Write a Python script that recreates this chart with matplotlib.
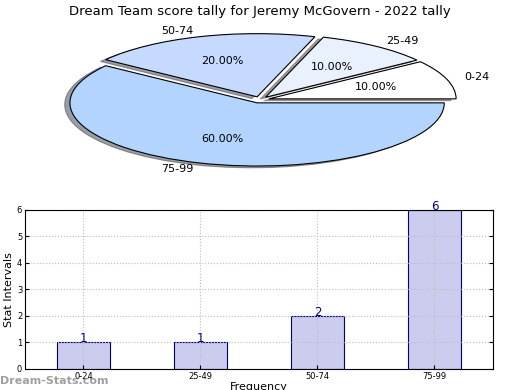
import numpy as np
import matplotlib
matplotlib.use("Agg")
import matplotlib.pyplot as plt

# score intervals and counts
labels = ["0-24", "25-49", "50-74", "75-99"]
counts = [1, 1, 2, 6]
pie_colors = ["#ffffff", "#e9f1ff", "#c6d9ff", "#b3d4ff"]
title = "Dream Team score tally for Jeremy McGovern - 2022 tally"

fig = plt.figure(figsize=(5.2, 3.9), dpi=100)

# pie on top, squashed to an ellipse
ax1 = fig.add_axes([0.05, 0.535, 0.90, 0.418])
ax1.pie(counts, labels=labels, colors=pie_colors, autopct="%1.2f%%",
        explode=[0.05] * len(counts), shadow=True, startangle=0,
        wedgeprops={"edgecolor": "black", "linewidth": 0.8},
        textprops={"fontsize": 8})
ax1.set_aspect("auto")
ax1.set_xlim(-1.25, 1.25)
ax1.set_ylim(-1.29, 1.29)
fig.text(0.5, 0.955, title, ha="center", va="bottom", fontsize=9.5)

# bar chart below
ax2 = fig.add_axes([0.048, 0.054, 0.90, 0.408])
x = np.arange(len(labels))
bars = ax2.bar(x, counts, width=0.45, color="#ccccee", edgecolor="#000080", linewidth=0.8, zorder=2)
for xi, c in zip(x, counts):
    ax2.text(xi, c, str(c), ha="center", va="baseline", color="#000080", fontsize=8.5)
ax2.set_xlim(-0.5, 3.5)
ax2.set_ylim(0, 6)
ax2.set_xticks(x)
ax2.set_xticklabels(labels)
ax2.set_yticks(range(7))
ax2.tick_params(labelsize=6, direction="in", length=3, right=True, top=False, pad=2)
ax2.grid(True, linestyle=":", color="#bbbbbb", linewidth=0.8)
ax2.set_axisbelow(False)
for sp in ax2.spines.values():
    sp.set_zorder(5)
ax2.set_ylabel("Stat Intervals", fontsize=8, labelpad=2)
ax2.set_xlabel("Frequency", fontsize=8, labelpad=1)

fig.text(0.0, 0.01, "Dream-Stats.com", color="#888888", alpha=0.8, fontsize=8,
         fontweight="bold", ha="left", va="bottom")

fig.savefig("out.png", dpi=100)
